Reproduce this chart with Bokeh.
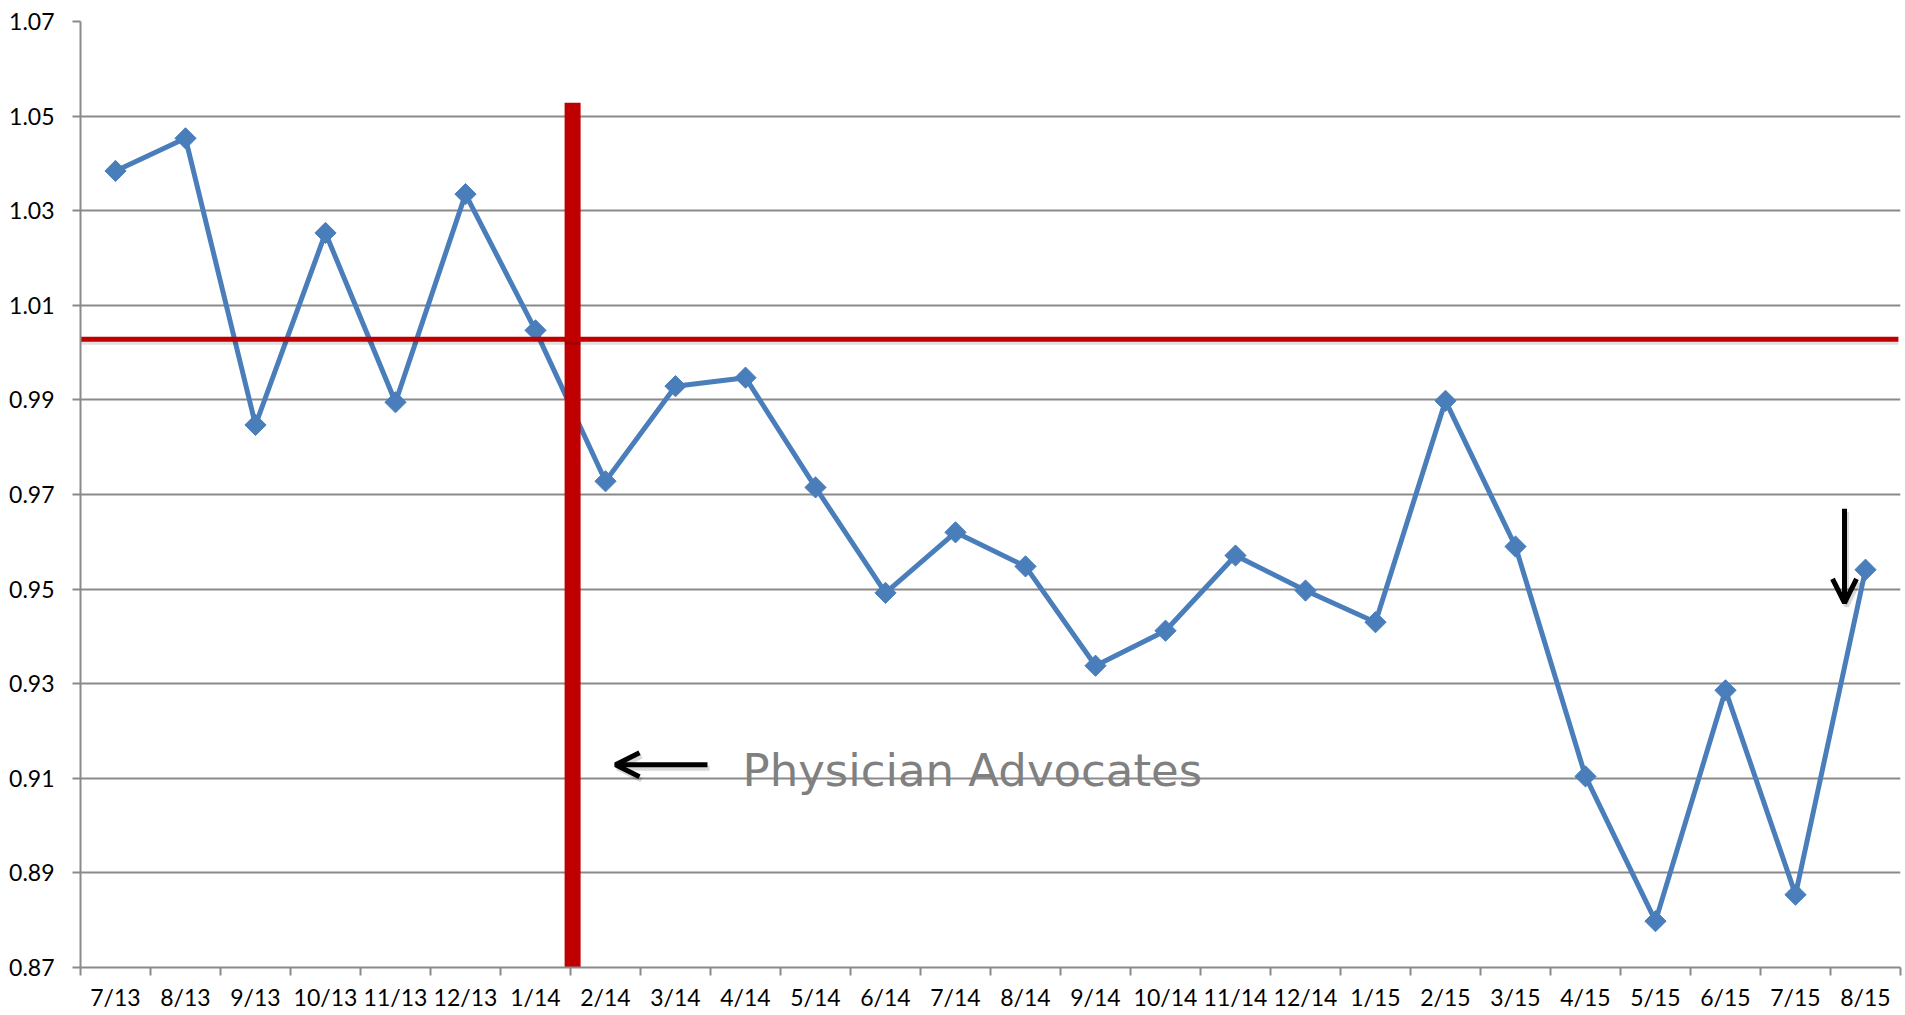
import numpy as np
from bokeh.plotting import figure
from bokeh.models import (Range1d, FixedTicker, NumeralTickFormatter, Arrow, OpenHead,
                          ColumnDataSource)
from bokeh.core.properties import value
from bokeh.embed import file_html
from bokeh.resources import INLINE

# ---- data ----
months = ["7/13", "8/13", "9/13", "10/13", "11/13", "12/13", "1/14", "2/14", "3/14",
          "4/14", "5/14", "6/14", "7/14", "8/14", "9/14", "10/14", "11/14", "12/14",
          "1/15", "2/15", "3/15", "4/15", "5/15", "6/15", "7/15", "8/15"]
values = [1.0384, 1.0453, 0.9847, 1.0253, 0.9895, 1.0335, 1.0047, 0.9728, 0.9929,
          0.9947, 0.9715, 0.9492, 0.9620, 0.9548, 0.9338, 0.9412, 0.9571, 0.9497,
          0.9430, 0.9898, 0.9590, 0.9104, 0.8798, 0.9286, 0.8854, 0.9541]
y_ticks = [0.87, 0.89, 0.91, 0.93, 0.95, 0.97, 0.99, 1.01, 1.03, 1.05, 1.07]
baseline_value = 1.0028          # red horizontal reference line
intervention_x = 7.03            # red vertical line (between 1/14 and 2/14)
intervention_top = 1.0528
annotation_text = ["Physician Advocates"]
annotation_x = [9.457]
annotation_y = [0.9116]
left_arrow = dict(x_start=8.957, x_end=7.643, y=0.91285)
down_arrow = dict(x=25.2, y_start=0.96698, y_end=0.9471)

# ---- figure ----
n = len(months)
xs = np.arange(n) + 0.5
src = ColumnDataSource(dict(x=xs, y=values))

p = figure(width=1905, height=1015, output_backend="svg", toolbar_location=None,
           x_range=Range1d(0, n), y_range=Range1d(y_ticks[0], y_ticks[-1]),
           min_border_left=80, min_border_right=5, min_border_top=21, min_border_bottom=48)
p.outline_line_color = None
p.background_fill_color = "white"
p.border_fill_color = "white"

GRID = "#8a8a8a"
FONT = "Lato"

# x axis: labels at category centers, ticks at category boundaries
xt = FixedTicker(ticks=list(xs), minor_ticks=list(range(n + 1)))
p.xaxis.ticker = xt
p.xaxis.major_label_overrides = {float(x): m for x, m in zip(xs, months)}
p.xaxis.major_tick_line_color = None
p.xaxis.major_tick_out = 0
p.xaxis.major_tick_in = 0
p.xaxis.minor_tick_line_color = GRID
p.xaxis.minor_tick_line_width = 2
p.xaxis.minor_tick_out = 8
p.xaxis.minor_tick_in = 0
p.xaxis.axis_line_color = GRID
p.xaxis.axis_line_width = 2
p.xaxis.major_label_text_font = FONT
p.xaxis.major_label_text_font_size = "23px"
p.xaxis.major_label_text_color = "black"
p.xaxis.major_label_standoff = 7
p.xgrid.grid_line_color = None

# y axis
p.yaxis.ticker = FixedTicker(ticks=y_ticks)
p.yaxis.formatter = NumeralTickFormatter(format="0.00")
p.yaxis.axis_line_color = GRID
p.yaxis.axis_line_width = 2
p.yaxis.major_tick_line_color = GRID
p.yaxis.major_tick_line_width = 2
p.yaxis.major_tick_out = 8
p.yaxis.major_tick_in = 0
p.yaxis.minor_tick_line_color = None
p.yaxis.major_label_text_font = FONT
p.yaxis.major_label_text_font_size = "23px"
p.yaxis.major_label_text_color = "black"
p.yaxis.major_label_standoff = 18
p.ygrid.grid_line_color = GRID
p.ygrid.grid_line_width = 2
p.ygrid.ticker = FixedTicker(ticks=y_ticks)

# data series
BLUE = "#4a7ebb"
p.line("x", "y", source=src, line_color=BLUE, line_width=5)
p.scatter("x", "y", source=src, marker="square", angle=np.pi / 4, size=15,
          fill_color=BLUE, line_color=BLUE)

RED = "#c00000"
# vertical intervention bar
p.segment(x0=[intervention_x], y0=[y_ticks[0]], x1=[intervention_x], y1=[intervention_top],
          line_color=RED, line_width=16, line_cap="butt")
# horizontal baseline (with faint shadow)
p.segment(x0=[-0.1], y0=[baseline_value - 0.0006], x1=[25.97], y1=[baseline_value - 0.0006],
          line_color="black", line_alpha=0.12, line_width=5, line_cap="butt")
p.segment(x0=[-0.1], y0=[baseline_value], x1=[25.97], y1=[baseline_value],
          line_color=RED, line_width=5, line_cap="butt")

# arrows (with faint shadows)
sdx, sdy = 0.03, -0.0007
for alpha, dx, dy in [(0.15, sdx, sdy), (1.0, 0, 0)]:
    p.add_layout(Arrow(x_start=left_arrow["x_start"] + dx, x_end=left_arrow["x_end"] + dx,
                       y_start=left_arrow["y"] + dy, y_end=left_arrow["y"] + dy,
                       line_color="black", line_alpha=alpha, line_width=5,
                       end=OpenHead(size=24, line_width=5, line_color="black", line_alpha=alpha)))
    p.add_layout(Arrow(x_start=down_arrow["x"] + dx, x_end=down_arrow["x"] + dx,
                       y_start=down_arrow["y_start"] + dy, y_end=down_arrow["y_end"] + dy,
                       line_color="black", line_alpha=alpha, line_width=5,
                       end=OpenHead(size=24, line_width=5, line_color="black", line_alpha=alpha)))

# annotation text
p.text(x=annotation_x, y=annotation_y, text=annotation_text,
       text_font=value("DejaVu Sans"), text_font_size="45px", text_color="#808080",
       text_baseline="alphabetic", text_align="left")

open("out.html", "w").write(file_html(p, INLINE))
